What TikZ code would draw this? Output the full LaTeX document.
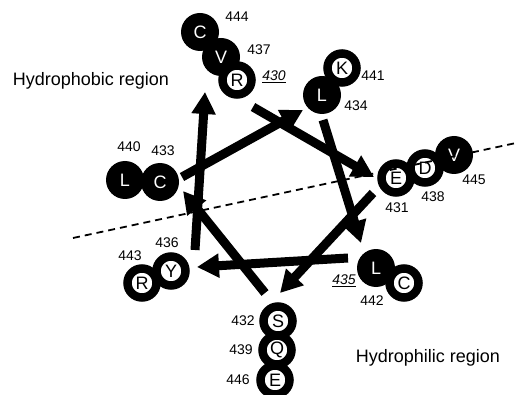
\documentclass[tikz,border=0pt]{standalone}
\usepackage{fontspec}
\setmainfont{Liberation Sans}
\usetikzlibrary{arrows.meta}
\tikzset{
  full/.style={circle, fill=black, minimum size=38pt, inner sep=0pt, text=white, font=\fontsize{18}{18}\selectfont},
  ring/.style={circle, draw=black, fill=white, line width=8.5pt, minimum size=29pt, inner sep=0pt, text=black, font=\fontsize{18}{18}\selectfont},
  num/.style={inner sep=0pt, font=\fontsize{14}{14}\selectfont},
  inum/.style={inner sep=0pt, font=\fontsize{14}{14}\selectfont\itshape},
  region/.style={inner sep=0pt, font=\fontsize{18}{18}\selectfont},
  helix/.style={line width=9pt, -{Triangle[length=22pt,width=23pt]}},
  divider/.style={dashed, line width=1.8pt, dash pattern=on 7pt off 5pt}
}
\begin{document}
\begin{tikzpicture}[x=1pt,y=-1pt]
\useasboundingbox (0,0) rectangle (516,395);
% region labels
\node[region] (hphob) at (91,81) {Hydrophobic region};
\node[region] (hphil) at (428,358) {Hydrophilic region};
% arrow endpoints
\coordinate (a1s) at (253,107); \coordinate (a1e) at (374,177);
\coordinate (a2s) at (373,193); \coordinate (a2e) at (280,293);
\coordinate (a3s) at (265,293); \coordinate (a3e) at (183,191);
\coordinate (a4s) at (182,177); \coordinate (a4e) at (303,110);
\coordinate (a5s) at (323,120); \coordinate (a5e) at (361,243);
\coordinate (a6s) at (348,258); \coordinate (a6e) at (197,267);
\coordinate (a7s) at (195,250); \coordinate (a7e) at (205,92);
\draw[helix] (a1s) -- (a1e);
\draw[helix] (a2s) -- (a2e);
\draw[helix] (a3s) -- (a3e);
\draw[helix] (a4s) -- (a4e);
\draw[helix] (a5s) -- (a5e);
\draw[helix] (a6s) -- (a6e);
\draw[helix] (a7s) -- (a7e);
% residues
\node[full] (c444) at (200,32) {C};
\node[full] (v437) at (221,57) {V};
\node[ring] (r430) at (237,80) {R};
\node[ring] (k441) at (342,68) {K};
\node[full] (l434) at (322,95) {L};
\node[full] (v445) at (454,155) {V};
\node[ring] (d438) at (425,168) {D};
\node[ring] (e431) at (396,178) {E};
\node[full] (l440) at (125,180) {L};
\node[full] (c433) at (160,182) {C};
\node[ring] (r443) at (142,283) {R};
\node[ring] (y436) at (171,271) {Y};
\node[ring] (c442) at (404,283) {C};
\node[full] (l435) at (376,268) {L};
\node[ring] (e446) at (275,380) {E};
\node[ring] (q439) at (277,350) {Q};
\node[ring] (s432) at (278,321) {S};
% numbers
\node[num] (n444) at (237,17) {444};
\node[num] (n437) at (259,50) {437};
\node[inum] (n430) at (274,77) {\underline{430}};
\node[num] (n441) at (373,76) {441};
\node[num] (n434) at (356,106) {434};
\node[num] (n445) at (474,180) {445};
\node[num] (n438) at (433,197) {438};
\node[num] (n431) at (397,208) {431};
\node[num] (n440) at (129,147) {440};
\node[num] (n433) at (163,151) {433};
\node[num] (n436) at (167,243) {436};
\node[num] (n443) at (130,256) {443};
\node[inum] (n435) at (344,281) {\underline{435}};
\node[num] (n442) at (372,301) {442};
\node[num] (n432) at (243,321) {432};
\node[num] (n439) at (241,350) {439};
\node[num] (n446) at (238,380) {446};
% dividing line
\coordinate (d1) at (73,238);
\coordinate (d2) at (516,143);
\draw[divider] (d1) -- (d2);
\end{tikzpicture}
\end{document}
